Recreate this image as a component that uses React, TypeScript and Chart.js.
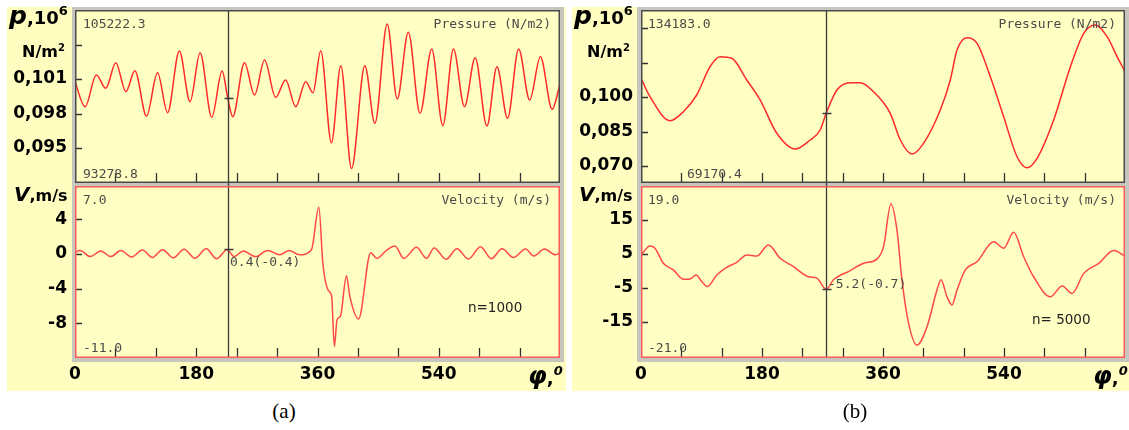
import React, { useEffect, useRef } from "react";
import { Chart, registerables } from "chart.js";

Chart.register(...registerables);

// ---------- data (phase angle in degrees, values) ----------
const A_P_DEG = [0, 14.9, 31.7, 45.7, 60.6, 75.5, 88.9, 106.2, 122.5, 137.4, 154.9, 170.8, 185.7, 203, 218.4, 226.8, 234.2, 251.6, 266.5, 281.4, 297.8, 312.7, 327.6, 342.5, 353.3, 364.8, 380.7, 394.6, 410.5, 430.3, 445.2, 463.5, 478.4, 494.8, 512.2, 529.6, 546, 561.8, 578.2, 594.1, 611.5, 626.4, 642.2, 658.6, 675, 690.9, 708.3, 720];
const A_P_VAL = [0.10077, 0.09859, 0.10135, 0.10019, 0.10242, 0.0999, 0.10172, 0.09778, 0.10155, 0.09807, 0.10343, 0.09903, 0.10329, 0.09767, 0.1017, 0.09932, 0.09772, 0.10242, 0.09961, 0.10265, 0.09941, 0.10091, 0.09859, 0.10077, 0.09981, 0.10346, 0.09546, 0.10216, 0.09323, 0.10216, 0.09715, 0.10578, 0.09926, 0.10506, 0.09802, 0.10361, 0.09694, 0.10361, 0.09859, 0.10285, 0.09691, 0.10207, 0.09758, 0.10361, 0.09917, 0.10294, 0.09837, 0.10054];

const A_V_DEG = [0, 7.4, 22.8, 38.2, 53, 68, 84, 100, 115, 130, 146, 162, 178, 195, 210, 226, 236, 250, 268, 286, 304, 318, 333, 351, 362, 368, 376, 381, 385, 389, 394, 403, 408, 421, 439, 448, 463, 475, 488, 507, 522, 533, 551, 567, 584, 602, 618, 634, 651, 669, 681, 697, 713, 720];
const A_V_VAL = [0.15, 0.4, -0.3, 0.35, -0.3, 0.4, -0.35, 0.45, -0.4, 0.5, -0.45, 0.55, -0.5, 0.6, -0.55, 0.5, -0.3, 0.35, -0.3, 0.4, -0.1, 0.4, -0.1, 0.5, 5.4, -1.1, -4.2, -4.9, -10.7, -7.6, -7.2, -2.5, -4.9, -7.5, 0.15, -0.5, 0.46, 0.92, -0.5, 0.77, -0.5, 0.69, -0.6, 0.6, -0.58, 0.85, -0.54, 0.6, -0.4, 0.58, -0.23, 0.58, -0.1, 0.15];

const B_P_DEG = [0, 13.4, 43.2, 63, 82.9, 102.7, 117.6, 135, 157.4, 177.2, 202, 229.3, 251.6, 266.5, 275.5, 291.4, 311.3, 326.1, 345.9, 370.8, 385.7, 403.1, 420.3, 445.2, 460.1, 470.1, 485, 499.9, 519.7, 539.5, 559.4, 574.3, 589.2, 613.9, 638.8, 658.6, 676, 693.4, 708.3, 720];
const B_P_VAL = [0.10813, 0.10013, 0.0897, 0.09361, 0.10087, 0.11317, 0.11752, 0.11683, 0.10739, 0.0987, 0.08422, 0.07739, 0.0813, 0.08565, 0.09291, 0.10304, 0.10622, 0.10622, 0.1023, 0.09291, 0.0813, 0.07522, 0.07987, 0.09435, 0.10739, 0.12043, 0.12578, 0.12335, 0.10883, 0.09143, 0.07404, 0.06926, 0.07335, 0.09, 0.11317, 0.1277, 0.1313, 0.12622, 0.11752, 0.111];

const B_V_DEG = [0, 13.4, 20.8, 33.2, 48.1, 63, 72.9, 81.9, 90.4, 98.7, 112.7, 125.1, 142.5, 157.4, 172.3, 189.5, 207, 226.8, 249.1, 261.6, 275.5, 286.3, 311.3, 331.1, 351, 360.8, 371.8, 380.8, 388.2, 398.1, 410.6, 425.5, 440.3, 446.3, 455.2, 462.6, 470.1, 482.4, 499.9, 524.6, 539.5, 554.4, 569.3, 584.1, 609, 626.4, 641.3, 658.6, 681, 703.3, 720];
const B_V_VAL = [4.7, 7.35, 6.7, 2.26, 0.3, -2.45, -2.35, -1.2, -3.1, -4.6, -1.2, 0.8, 2.56, 4.7, 4.4, 7.65, 3.73, 1.26, -1.7, -2.1, -5.4, -2.6, 0.1, 2.26, 3.5, 7.15, 19.7, 12, -2.6, -15.4, -21.8, -16.4, -5.6, -2.6, -7.6, -10, -5.6, 0.3, 2.7, 8.6, 6.7, 11.4, 4.2, -1.7, -7.6, -4.4, -6.6, -0.7, 2.26, 6, 4.4];

// ---------- ticks ----------
const X_TICKS = [0, 60, 120, 180, 240, 300, 360, 420, 480, 540, 600, 660, 720];
const X_LABELS = [0, 180, 360, 540];
const A_P_TICKS = [0.095, 0.098, 0.101, 0.104];
const A_P_LABELS = [0.095, 0.098, 0.101];
const A_V_TICKS = [-8, -4, 0, 4];
const B_P_TICKS = [0.07, 0.085, 0.1, 0.115, 0.13];
const B_P_LABELS = [0.07, 0.085, 0.1];
const B_V_TICKS = [-15, -5, 5, 15];

// cursor readouts
const A_CURSOR = 226.8;
const A_CURSOR_P = 0.09932;
const A_CURSOR_V = 0.55;
const B_CURSOR = 275.5;
const B_CURSOR_P = 0.0929;
const B_CURSOR_V = -5.4;

const PLOT_BG = "#FFFFC4";
const PANEL_BG = "#FFFDC0";
const BACK_GRAY = "#C6C6BE";

const decor = {
  id: "decor",
  beforeDraw(chart: any, _a: any, o: any) {
    const { ctx, chartArea: a } = chart;
    ctx.save();
    ctx.fillStyle = o.bg;
    ctx.fillRect(a.left, a.top, a.right - a.left, a.bottom - a.top);
    ctx.restore();
  },
  afterDraw(chart: any, _a: any, o: any) {
    const { ctx, chartArea: a, scales } = chart;
    const xs = scales.x;
    const ys = scales.y;
    ctx.save();
    ctx.strokeStyle = "#333";
    ctx.lineWidth = 1.3;
    ctx.beginPath();
    for (const v of o.xTicks) {
      if (v <= xs.min || v >= xs.max) continue;
      const px = Math.round(xs.getPixelForValue(v)) + 0.5;
      ctx.moveTo(px, a.bottom);
      ctx.lineTo(px, a.bottom - 10);
    }
    for (const v of o.yTicks) {
      const py = Math.round(ys.getPixelForValue(v)) + 0.5;
      ctx.moveTo(a.left, py);
      ctx.lineTo(a.left + 7, py);
    }
    ctx.stroke();
    // cursor
    const cx = Math.round(xs.getPixelForValue(o.cursorX)) + 0.5;
    ctx.strokeStyle = "#3a3a3a";
    ctx.lineWidth = 1.3;
    ctx.beginPath();
    ctx.moveTo(cx, a.top - 4);
    ctx.lineTo(cx, a.bottom + o.extendDown);
    const cy = Math.round(ys.getPixelForValue(o.cursorY)) + 0.5;
    ctx.moveTo(cx - 4, cy);
    ctx.lineTo(cx + 5, cy);
    ctx.stroke();
    // frame
    ctx.strokeStyle = o.frame;
    ctx.lineWidth = 1.5;
    ctx.strokeRect(a.left + 0.75, a.top + 0.75, a.right - a.left - 1.5, a.bottom - a.top - 1.5);
    ctx.restore();
  },
};

const near = (list: number[], v: number) => list.some((t) => Math.abs(t - v) < 1e-9);

type Cfg = {
  deg: number[];
  val: number[];
  yMin: number;
  yMax: number;
  yTicks: number[];
  yLabels: number[];
  fmt: (v: number) => string;
  color: string;
  frame: string;
  showX: boolean;
  cursorX: number;
  cursorY: number;
  axisW: number;
};

function makeConfig(c: Cfg): any {
  const tickFont = { family: '"DejaVu Sans", sans-serif', size: 17, weight: "bold" as const };
  return {
    type: "line",
    data: {
      datasets: [
        {
          data: c.deg.map((d, i) => ({ x: d, y: c.val[i] })),
          borderColor: c.color,
          borderWidth: 1.5,
          pointRadius: 0,
          cubicInterpolationMode: "monotone",
          fill: false,
        },
      ],
    },
    options: {
      animation: false,
      responsive: false,
      devicePixelRatio: 1,
      layout: { padding: { top: 0, left: 0, right: 0, bottom: c.showX ? 0 : 3 } },
      plugins: {
        legend: { display: false },
        tooltip: { enabled: false },
        decor: {
          bg: PLOT_BG,
          frame: c.frame,
          xTicks: X_TICKS,
          yTicks: c.yTicks,
          cursorX: c.cursorX,
          cursorY: c.cursorY,
          extendDown: c.showX ? 0 : 3,
        },
      },
      scales: {
        x: {
          type: "linear",
          min: 0,
          max: 720,
          display: c.showX,
          afterBuildTicks: (s: any) => {
            s.ticks = X_TICKS.map((v) => ({ value: v }));
          },
          afterFit: (s: any) => {
            if (c.showX) s.height = 32;
            s.paddingLeft = 0;
            s.paddingRight = 0;
          },
          ticks: {
            autoSkip: false,
            maxRotation: 0,
            padding: 6,
            color: "#000",
            font: tickFont,
            callback: (v: any) => (near(X_LABELS, Number(v)) ? String(v) : ""),
          },
          grid: { display: false, drawTicks: false },
          border: { display: false },
        },
        y: {
          type: "linear",
          min: c.yMin,
          max: c.yMax,
          afterBuildTicks: (s: any) => {
            s.ticks = c.yTicks.map((v) => ({ value: v }));
          },
          afterFit: (s: any) => {
            s.width = c.axisW;
            s.paddingTop = 0;
            s.paddingBottom = 0;
          },
          ticks: {
            autoSkip: false,
            padding: 8,
            color: "#000",
            font: tickFont,
            callback: (v: any) => (near(c.yLabels, Number(v)) ? c.fmt(Number(v)) : ""),
          },
          grid: { display: false, drawTicks: false },
          border: { display: false },
        },
      },
    },
    plugins: [decor],
  };
}

function PlotCanvas(props: { cfg: Cfg; left: number; top: number; width: number; height: number }) {
  const ref = useRef<HTMLCanvasElement>(null);
  useEffect(() => {
    const chart = new Chart(ref.current as HTMLCanvasElement, makeConfig(props.cfg));
    return () => chart.destroy();
  }, []);
  return (
    <canvas
      ref={ref}
      width={props.width}
      height={props.height}
      style={{ position: "absolute", left: props.left, top: props.top, width: props.width, height: props.height }}
    />
  );
}

const mono: React.CSSProperties = {
  fontFamily: '"DejaVu Sans Mono", monospace',
  fontSize: 13,
  color: "#4a4a4a",
};

function T(props: { x: number; y: number; right?: boolean; style?: React.CSSProperties; children: React.ReactNode }) {
  return (
    <div
      style={{
        position: "absolute",
        left: props.x,
        top: props.y,
        transform: props.right ? "translate(-100%, -50%)" : "translate(0, -50%)",
        whiteSpace: "nowrap",
        lineHeight: 1,
        ...props.style,
      }}
    >
      {props.children}
    </div>
  );
}

const bold: React.CSSProperties = {
  fontFamily: '"DejaVu Sans", sans-serif',
  fontWeight: "bold",
  color: "#000",
};

function Panel(props: {
  ox: number;
  pCfg: Cfg;
  vCfg: Cfg;
  pMax: string;
  pMin: string;
  pMinX: number;
  vMax: string;
  vMin: string;
  readout: string;
  readoutX: number;
  readoutY: number;
  nText: string;
  nX: number;
  nY: number;
  rightEdge: number;
  tag: string;
  tagX: number;
  panelW: number;
}) {
  const ox = props.ox;
  const plotW = props.rightEdge - ox;
  return (
    <>
      <div style={{ position: "absolute", left: ox, top: 7, width: props.panelW, height: 384, background: PANEL_BG }} />
      <div style={{ position: "absolute", left: ox + 65, top: 7, width: plotW - 61, height: 355, background: BACK_GRAY }} />
      <PlotCanvas cfg={props.pCfg} left={ox} top={10} width={plotW} height={176} />
      <PlotCanvas cfg={props.vCfg} left={ox} top={186} width={plotW} height={204} />
      {/* in-plot texts */}
      <T x={ox + 76} y={23} style={mono}>{props.pMax}</T>
      <T x={props.pMinX} y={173} style={mono}>{props.pMin}</T>
      <T x={props.rightEdge - 9} y={23} right style={mono}>Pressure (N/m2)</T>
      <T x={ox + 76} y={199} style={mono}>{props.vMax}</T>
      <T x={ox + 76} y={347} style={mono}>{props.vMin}</T>
      <T x={props.rightEdge - 9} y={199} right style={mono}>Velocity (m/s)</T>
      <T x={props.readoutX} y={props.readoutY} style={mono}>{props.readout}</T>
      <T x={props.nX} y={props.nY} style={{ fontFamily: '"DejaVu Sans", sans-serif', fontSize: 13.5, color: "#222" }}>
        {props.nText}
      </T>
      {/* outer axis titles */}
      <div style={{ position: "absolute", left: ox + 2, top: 3, whiteSpace: "nowrap", lineHeight: 1, ...bold, fontSize: 18 }}>
        <span style={{ fontStyle: "italic", fontSize: 25 }}>p</span>,10
        <span style={{ fontSize: 13, position: "relative", top: -9 }}>6</span>
      </div>
      <T x={ox + 15} y={52} style={{ ...bold, fontSize: 16 }}>
        N/m<span style={{ fontSize: 10, position: "relative", top: -6 }}>2</span>
      </T>
      <T x={ox + 7} y={194} style={{ ...bold, fontSize: 16 }}>
        <span style={{ fontStyle: "italic", fontSize: 20 }}>V</span>,m/s
      </T>
      <T x={props.rightEdge - 32} y={376} style={{ ...bold, fontSize: 18 }}>
        <span style={{ fontStyle: "italic", fontSize: 24 }}>φ</span>,
        <span style={{ fontStyle: "italic", fontSize: 13, position: "relative", top: -9 }}>0</span>
      </T>
      <T x={props.tagX} y={411} style={{ fontFamily: '"Liberation Serif", serif', fontSize: 21, color: "#000", transform: "translate(-50%, -50%)" }}>
        {props.tag}
      </T>
    </>
  );
}

const fmt3 = (v: number) => v.toFixed(3).replace(".", ",");
const fmt0 = (v: number) => String(Math.round(v));

export default function App() {
  const aP: Cfg = {
    deg: A_P_DEG, val: A_P_VAL, yMin: 0.09196, yMax: 0.107, yTicks: A_P_TICKS, yLabels: A_P_LABELS,
    fmt: fmt3, color: "#FF2A2A", frame: "#4a4a4a", showX: false, cursorX: A_CURSOR, cursorY: A_CURSOR_P, axisW: 68,
  };
  const aV: Cfg = {
    deg: A_V_DEG, val: A_V_VAL, yMin: -12.02, yMax: 7.86, yTicks: A_V_TICKS, yLabels: A_V_TICKS,
    fmt: fmt0, color: "#FF4848", frame: "#FF5A5A", showX: true, cursorX: A_CURSOR, cursorY: A_CURSOR_V, axisW: 68,
  };
  const bP: Cfg = {
    deg: B_P_DEG, val: B_P_VAL, yMin: 0.06261, yMax: 0.13783, yTicks: B_P_TICKS, yLabels: B_P_LABELS,
    fmt: fmt3, color: "#FF2A2A", frame: "#4a4a4a", showX: false, cursorX: B_CURSOR, cursorY: B_CURSOR_P, axisW: 69,
  };
  const bV: Cfg = {
    deg: B_V_DEG, val: B_V_VAL, yMin: -25.6, yMax: 25, yTicks: B_V_TICKS, yLabels: B_V_TICKS,
    fmt: fmt0, color: "#FF4848", frame: "#FF5A5A", showX: true, cursorX: B_CURSOR, cursorY: B_CURSOR_V, axisW: 69,
  };
  return (
    <div style={{ position: "fixed", left: 0, top: 0, width: 1129, height: 430, background: "#fff", overflow: "hidden" }}>
      <Panel
        ox={7} pCfg={aP} vCfg={aV} pMax="105222.3" pMin="93278.8" pMinX={83}
        vMax="7.0" vMin="-11.0" readout="0.4(-0.4)" readoutX={230} readoutY={261}
        nText="n=1000" nX={468} nY={308} rightEdge={560} tag="(a)" tagX={284} panelW={559}
      />
      <Panel
        ox={572} pCfg={bP} vCfg={bV} pMax="134183.0" pMin="69170.4" pMinX={687}
        vMax="19.0" vMin="-21.0" readout="-5.2(-0.7)" readoutX={828} readoutY={283}
        nText="n= 5000" nX={1032} nY={320} rightEdge={1125} tag="(b)" tagX={855} panelW={557}
      />
    </div>
  );
}
